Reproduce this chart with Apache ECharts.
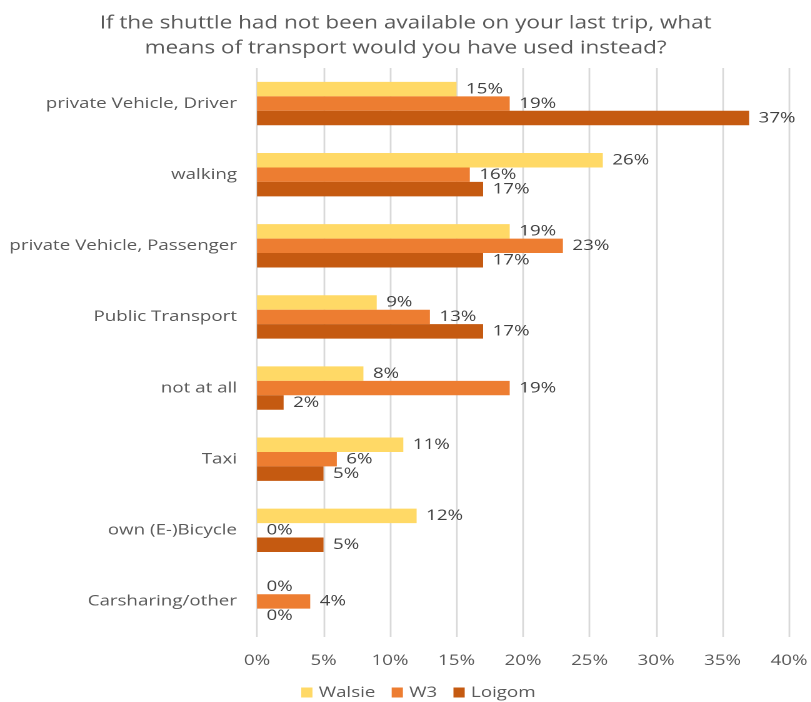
<!DOCTYPE html>
<html>
<head>
<meta charset="utf-8">
<style>
  html, body { margin: 0; padding: 0; background: #ffffff; overflow: hidden; }
  #frame { width: 811px; height: 702px; overflow: hidden; }
  /* the chart is laid out narrower and widened horizontally, giving the wide lettering of the original figure */
  #chart { width: 648.8px; height: 702px; transform: scaleX(1.25); transform-origin: 0 0; }
</style>
<script src="https://cdn.jsdelivr.net/npm/echarts@6/dist/echarts.min.js"></script>
</head>
<body>
<div id="frame"><div id="chart"></div></div>
<script>
// Survey answers: alternative means of transport, share of respondents (%)
const categories = [
  'private Vehicle, Driver',
  'walking',
  'private Vehicle, Passenger',
  'Public Transport',
  'not at all',
  'Taxi',
  'own (E-)Bicycle',
  'Carsharing/other'
];
const walsie = [15, 26, 19, 9, 8, 11, 12, 0];
const w3     = [19, 16, 23, 13, 19, 6, 0, 4];
const loigom = [37, 17, 17, 17, 2, 5, 5, 0];
const xTicks = [0, 5, 10, 15, 20, 25, 30, 35, 40];

const SX = 1.25;   // horizontal widening applied to the chart element
const FONT = '"Open Sans", sans-serif';
const GREY = '#595959';

function makeSeries(name, data, color) {
  return {
    name: name,
    type: 'bar',
    data: data,
    itemStyle: { color: color },
    barGap: '0%',
    barCategoryGap: '39%',
    label: {
      show: true,
      position: 'right',
      distance: 9.5 / SX,
      formatter: p => p.value + '%',
      color: '#404040',
      fontFamily: FONT,
      fontSize: 15
    }
  };
}

const chart = echarts.init(document.getElementById('chart'), null, { renderer: 'canvas', devicePixelRatio: 2 });
chart.setOption({
  animation: false,
  title: {
    text: 'If the shuttle had not been available on your last trip, what\nmeans of transport would you have used instead?',
    left: 'center',
    top: 6,
    textStyle: { fontFamily: FONT, fontSize: 18, fontWeight: 'normal', color: GREY, lineHeight: 25 }
  },
  legend: {
    bottom: -3,
    left: 295 / SX,
    itemWidth: 9,
    itemHeight: 10,
    itemGap: 13,
    icon: 'rect',
    textStyle: { fontFamily: FONT, fontSize: 15, color: GREY }
  },
  grid: { left: 257 / SX, right: 21 / SX, top: 68, bottom: 65, containLabel: false },
  xAxis: {
    type: 'value',
    min: xTicks[0],
    max: xTicks[xTicks.length - 1],
    interval: xTicks[1] - xTicks[0],
    axisLine: { show: false },
    axisTick: { show: false },
    axisLabel: { formatter: '{value}%', color: GREY, fontFamily: FONT, fontSize: 15, margin: 16 },
    splitLine: { lineStyle: { color: '#d9d9d9', width: 1.4 } }
  },
  yAxis: {
    type: 'category',
    data: categories,
    inverse: true,
    axisLine: { show: false },
    axisTick: { show: false },
    axisLabel: { color: GREY, fontFamily: FONT, fontSize: 15, margin: 20 / SX }
  },
  series: [
    makeSeries('Walsie', walsie, '#FFD966'),
    makeSeries('W3', w3, '#ED7D31'),
    makeSeries('Loigom', loigom, '#C55A11')
  ]
});
</script>
</body>
</html>
